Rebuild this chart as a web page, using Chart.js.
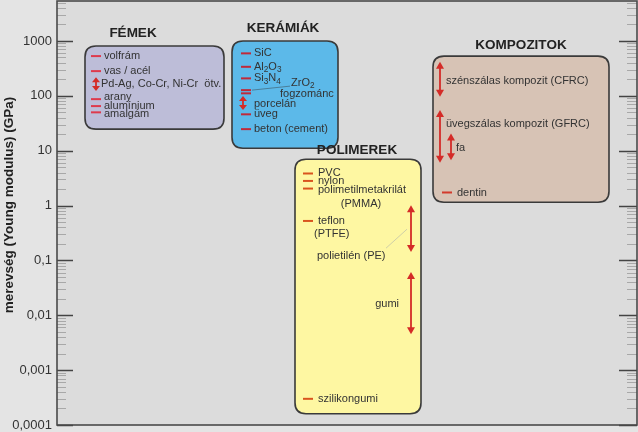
<!DOCTYPE html>
<html><head><meta charset="utf-8">
<script src="https://cdn.jsdelivr.net/npm/chart.js@4"></script>
<style>html,body{margin:0;padding:0;background:#e4e4e4;overflow:hidden}</style>
</head><body>
<canvas id="c" width="638" height="432"></canvas>
<script>
const FONT = '"Liberation Sans", Arial, sans-serif';

// ---- axis ----
const yTicks = [0.0001, 0.001, 0.01, 0.1, 1, 10, 100, 1000];
const yTickLabels = ['0,0001', '0,001', '0,01', '0,1', '1', '10', '100', '1000'];
const yMin = 0.0001, yMax = 5350;
const yTitle = 'merevség (Young modulus) (GPa)';

// ---- material groups (value ranges in GPa) ----
const groupNames = ['FÉMEK', 'KERÁMIÁK', 'POLIMEREK', 'KOMPOZITOK'];
const groupTop = [810, 1000, 7.0, 530];
const groupBottom = [24.7, 11.1, 0.00016, 1.15];

// ---- single-value materials ----
const markNames = ['volfrám', 'vas / acél', 'arany', 'alumínium', 'amalgám',
  'SiC', 'Al_2O_3', 'Si_3N_4', 'ZrO_2', 'fogzománc', 'üveg', 'beton (cement)',
  'PVC', 'nylon', 'polimetilmetakrilát', 'teflon', 'szilikongumi', 'dentin'];
const markValues = [530, 282, 87, 65, 50,
  594, 338, 208, 127, 111, 46, 24.7,
  3.84, 2.81, 2.04, 0.524, 0.0003, 1.73];
const markGroup = [0, 0, 0, 0, 0, 1, 1, 1, 1, 1, 1, 1, 2, 2, 2, 2, 2, 3];
const markSubLabels = {14: '(PMMA)', 15: '(PTFE)'};

// ---- range materials (GPa) ----
const rangeNames = ['Pd-Ag, Co-Cr, Ni-Cr  ötv.', 'porcelán', 'polietilén (PE)', 'gumi',
  'szénszálas kompozit (CFRC)', 'üvegszálas kompozit (GFRC)', 'fa'];
const rangeLow = [122, 55, 0.142, 0.0045, 96, 6.0, 6.7];
const rangeHigh = [219, 99, 1.01, 0.0614, 417, 55, 20.6];

// ---- layout / style (pixels) ----
const groupLayout = [
  {x0: 85, x1: 224, titleX: 133, titleDy: -13, fill: '#bdbdd8', dash: '#de3a4c'},
  {x0: 232, x1: 338, titleX: 283, titleDy: -13, fill: '#5cb9e9', dash: '#c02a3a'},
  {x0: 295, x1: 421, titleX: 357, titleDy: -9, fill: '#fef7a2', dash: '#d9541e'},
  {x0: 433, x1: 609, titleX: 521, titleDy: -11, fill: '#d7c3b5', dash: '#d33a2c'}
];
const markLayout = [
  {x: 96, tx: 104, dy: 0}, {x: 96, tx: 104, dy: 0}, {x: 96, tx: 104, dy: -2.5},
  {x: 96, tx: 104, dy: 0}, {x: 96, tx: 104, dy: 1.5},
  {x: 246, tx: 254, dy: 0}, {x: 246, tx: 254, dy: 0}, {x: 246, tx: 254, dy: 0},
  {x: 246, tx: 291, dy: -7, leader: [252, 0, 290, -4]}, {x: 246, tx: 280, dy: 0.5},
  {x: 246, tx: 254, dy: 0}, {x: 246, tx: 254, dy: 0},
  {x: 308, tx: 318, dy: -1}, {x: 308, tx: 318, dy: 0}, {x: 308, tx: 318, dy: 1.5, sub: {x: 361, dy: 15, align: 'center'}},
  {x: 308, tx: 318, dy: 0, sub: {x: 314, dy: 12.6, align: 'left'}}, {x: 308, tx: 318, dy: 0},
  {x: 447, tx: 457, dy: 0}
];
const rangeLayout = [
  {x: 96, tx: 101, dy: 0, align: 'left'},
  {x: 243, tx: 254, dy: 1, align: 'left'},
  {x: 411, tx: 317, dy: 27.6, align: 'left', leader: [386, 19.5, 407, 0.5]},
  {x: 411, tx: 399, dy: 0.5, align: 'right'},
  {x: 440, tx: 446, dy: 1.5, align: 'left'},
  {x: 440, tx: 446, dy: -12, align: 'left'},
  {x: 451, tx: 456, dy: 1, align: 'left'}
];
const arrowColor = '#d42b27';
const textColor = '#333333';
const LABEL_SIZE = 11;

function drawRich(ctx, str, x, y, size, align) {
  const parts = [];
  for (let i = 0; i < str.length; i++) {
    if (str[i] === '_' && i + 1 < str.length) { parts.push({t: str[i + 1], sub: true}); i++; }
    else if (parts.length && !parts[parts.length - 1].sub) parts[parts.length - 1].t += str[i];
    else parts.push({t: str[i], sub: false});
  }
  let w = 0;
  parts.forEach(p => { ctx.font = (p.sub ? size * 0.75 : size) + 'px ' + FONT; p.w = ctx.measureText(p.t).width; w += p.w; });
  let cx = align === 'right' ? x - w : align === 'center' ? x - w / 2 : x;
  ctx.textAlign = 'left'; ctx.textBaseline = 'middle';
  parts.forEach(p => { ctx.font = (p.sub ? size * 0.75 : size) + 'px ' + FONT; ctx.fillText(p.t, cx, p.sub ? y + 3 : y); cx += p.w; });
}

function roundRect(ctx, x, y, w, h, r) {
  ctx.beginPath();
  ctx.moveTo(x + r, y);
  ctx.lineTo(x + w - r, y); ctx.quadraticCurveTo(x + w, y, x + w, y + r);
  ctx.lineTo(x + w, y + h - r); ctx.quadraticCurveTo(x + w, y + h, x + w - r, y + h);
  ctx.lineTo(x + r, y + h); ctx.quadraticCurveTo(x, y + h, x, y + h - r);
  ctx.lineTo(x, y + r); ctx.quadraticCurveTo(x, y, x + r, y);
  ctx.closePath();
}

function drawArrow(ctx, x, yTop, yBot) {
  const len = yBot - yTop;
  const hl = Math.min(7, len * 0.36), hw = Math.min(4, hl * 0.75 + 0.5);
  ctx.strokeStyle = arrowColor; ctx.fillStyle = arrowColor; ctx.lineWidth = 1.8;
  ctx.beginPath(); ctx.moveTo(x, yTop + hl - 1); ctx.lineTo(x, yBot - hl + 1); ctx.stroke();
  ctx.beginPath(); ctx.moveTo(x, yTop); ctx.lineTo(x - hw, yTop + hl); ctx.lineTo(x + hw, yTop + hl); ctx.closePath(); ctx.fill();
  ctx.beginPath(); ctx.moveTo(x, yBot); ctx.lineTo(x - hw, yBot - hl); ctx.lineTo(x + hw, yBot - hl); ctx.closePath(); ctx.fill();
}

const materialsPlugin = {
  id: 'materials',
  beforeDraw(chart) {
    const {ctx, chartArea: a} = chart;
    ctx.save();
    ctx.fillStyle = '#e4e4e4'; ctx.fillRect(0, 0, chart.width, chart.height);
    ctx.fillStyle = '#dcdcdc'; ctx.fillRect(a.left, a.top, a.right - a.left, a.bottom - a.top);
    ctx.restore();
  },
  beforeDatasetsDraw(chart) {
    const {ctx, scales: {x, y}} = chart;
    ctx.save();
    groupNames.forEach((name, i) => {
      const L = groupLayout[i];
      const x0 = x.getPixelForValue(L.x0), x1 = x.getPixelForValue(L.x1);
      const y0 = y.getPixelForValue(groupTop[i]), y1 = y.getPixelForValue(groupBottom[i]);
      roundRect(ctx, x0, y0, x1 - x0, y1 - y0, 11);
      ctx.fillStyle = L.fill; ctx.fill();
      ctx.lineWidth = 1.6; ctx.strokeStyle = '#3a3a3a'; ctx.stroke();
      ctx.fillStyle = '#222'; ctx.font = 'bold 13.5px ' + FONT;
      ctx.textAlign = 'center'; ctx.textBaseline = 'middle';
      ctx.fillText(name, x.getPixelForValue(L.titleX), y0 + L.titleDy);
    });
    // leader lines
    ctx.lineWidth = 1;
    markNames.forEach((n, i) => {
      const L = markLayout[i]; if (!L.leader) return;
      const py = y.getPixelForValue(markValues[i]);
      ctx.strokeStyle = '#4a7f9a';
      ctx.beginPath(); ctx.moveTo(L.leader[0], py + L.leader[1]); ctx.lineTo(L.leader[2], py + L.leader[3]); ctx.stroke();
    });
    rangeNames.forEach((n, i) => {
      const L = rangeLayout[i]; if (!L.leader) return;
      const mid = (y.getPixelForValue(rangeLow[i]) + y.getPixelForValue(rangeHigh[i])) / 2;
      ctx.strokeStyle = '#cfcfa8';
      ctx.beginPath(); ctx.moveTo(L.leader[0], mid + L.leader[1]); ctx.lineTo(L.leader[2], mid + L.leader[3]); ctx.stroke();
    });
    ctx.restore();
  },
  afterDatasetsDraw(chart) {
    const {ctx, chartArea: a, scales: {x, y}} = chart;
    ctx.save();
    rangeNames.forEach((name, i) => {
      const L = rangeLayout[i];
      const px = x.getPixelForValue(L.x);
      const yt = y.getPixelForValue(rangeHigh[i]), yb = y.getPixelForValue(rangeLow[i]);
      drawArrow(ctx, px, yt, yb);
      ctx.fillStyle = textColor;
      drawRich(ctx, name, x.getPixelForValue(L.tx), (yt + yb) / 2 + L.dy, LABEL_SIZE, L.align);
    });
    markNames.forEach((name, i) => {
      const L = markLayout[i];
      const py = y.getPixelForValue(markValues[i]);
      ctx.fillStyle = textColor;
      drawRich(ctx, name, x.getPixelForValue(L.tx), py + L.dy, LABEL_SIZE, 'left');
      if (L.sub) drawRich(ctx, markSubLabels[i], x.getPixelForValue(L.sub.x), py + L.sub.dy, LABEL_SIZE, L.sub.align);
    });
    for (let e = -4; e <= 3; e++) {
      for (let k = 1; k <= 9; k++) {
        const v = k * Math.pow(10, e);
        if (v < yMin || v > yMax) continue;
        const py = Math.round(y.getPixelForValue(v)) + 0.5;
        const major = k === 1;
        ctx.strokeStyle = major ? '#444' : '#a8a8a8';
        ctx.lineWidth = major ? 1.3 : 1;
        ctx.beginPath();
        ctx.moveTo(a.left, py); ctx.lineTo(a.left + (major ? 16 : 9), py);
        ctx.moveTo(a.right, py); ctx.lineTo(a.right - (major ? 18 : 10), py);
        ctx.stroke();
      }
    }
    ctx.strokeStyle = '#4a4a4a'; ctx.lineWidth = 1.6;
    ctx.strokeRect(a.left, a.top, a.right - a.left, a.bottom - a.top);
    ctx.translate(9, 205); ctx.rotate(-Math.PI / 2);
    ctx.fillStyle = '#222'; ctx.font = 'bold 13.5px ' + FONT;
    ctx.textAlign = 'center'; ctx.textBaseline = 'middle';
    ctx.fillText(yTitle, 0, 0);
    ctx.restore();
  }
};

new Chart(document.getElementById('c'), {
  type: 'scatter',
  data: {
    datasets: [{
      data: markValues.map((v, i) => ({x: markLayout[i].x, y: v})),
      pointStyle: 'line',
      pointRadius: 5,
      pointHoverRadius: 5,
      pointBorderWidth: 2,
      borderColor: markValues.map((v, i) => groupLayout[markGroup[i]].dash),
      backgroundColor: 'transparent'
    }]
  },
  options: {
    responsive: false,
    animation: false,
    events: [],
    layout: {autoPadding: false, padding: {right: 1}},
    plugins: {legend: {display: false}, tooltip: {enabled: false}},
    scales: {
      x: {type: 'linear', min: 57, max: 637, display: false},
      y: {
        type: 'logarithmic', min: yMin, max: yMax, position: 'left',
        afterBuildTicks: s => { s.ticks = yTicks.map(v => ({value: v, major: true})); },
        afterFit: s => { s.width = 57; s.paddingTop = 1; s.paddingBottom = 7; },
        grid: {display: false, drawTicks: false},
        border: {display: false},
        ticks: {
          color: '#333', font: {family: FONT, size: 13}, padding: 5, autoSkip: false,
          callback: (v) => { const i = yTicks.indexOf(v); return i >= 0 ? yTickLabels[i] : ''; }
        }
      }
    }
  },
  plugins: [materialsPlugin]
});
</script>
</body></html>
